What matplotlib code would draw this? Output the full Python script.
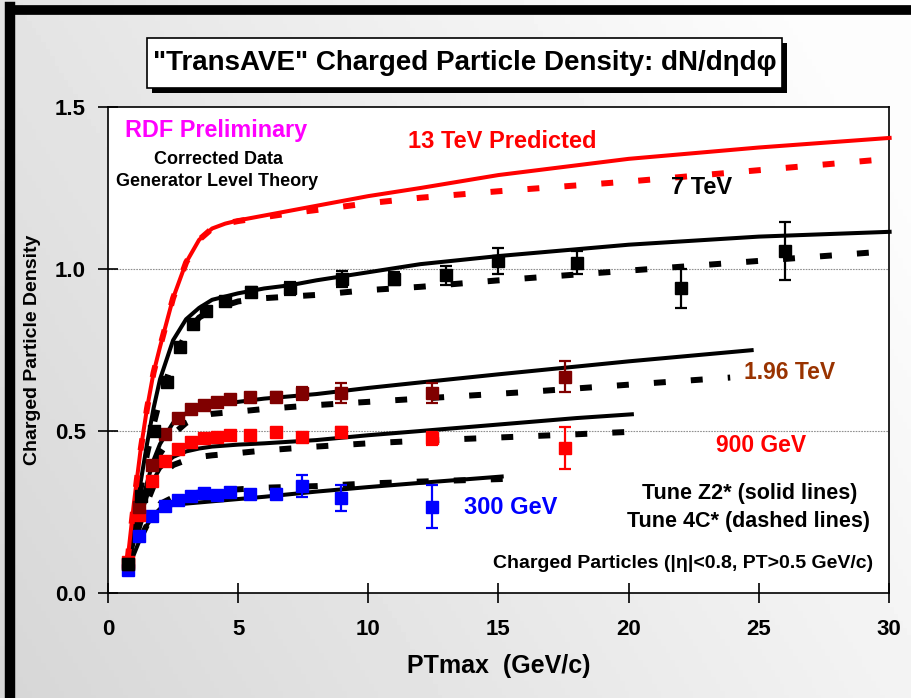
import numpy as np
import matplotlib
matplotlib.use("Agg")
import matplotlib.pyplot as plt
from matplotlib.patches import Rectangle
from matplotlib.lines import Line2D

plt.rcParams['font.family'] = ['Liberation Sans', 'DejaVu Sans']
plt.rcParams['font.weight'] = 'bold'

# ---- data points (PTmax, density, error) ----
x7 = [0.75, 1.25, 1.75, 2.25, 2.75, 3.25, 3.75, 4.5, 5.5, 7.0, 9.0, 11.0, 13.0, 15.0, 18.0, 22.0, 26.0]
y7 = [0.09, 0.30, 0.50, 0.65, 0.76, 0.83, 0.87, 0.90, 0.93, 0.94, 0.97, 0.97, 0.98, 1.025, 1.02, 0.94, 1.055]
e7 = [0.005, 0.005, 0.005, 0.005, 0.008, 0.008, 0.01, 0.01, 0.015, 0.02, 0.025, 0.02, 0.03, 0.04, 0.035, 0.06, 0.09]

x196 = [0.75, 1.2, 1.7, 2.2, 2.7, 3.2, 3.7, 4.2, 4.7, 5.45, 6.45, 7.45, 8.95, 12.45, 17.55]
y196 = [0.09, 0.265, 0.395, 0.49, 0.54, 0.567, 0.58, 0.59, 0.60, 0.605, 0.605, 0.617, 0.617, 0.617, 0.667]
e196 = [0.005, 0.005, 0.005, 0.005, 0.005, 0.008, 0.008, 0.01, 0.01, 0.012, 0.015, 0.02, 0.03, 0.03, 0.048]

x900 = [0.75, 1.2, 1.7, 2.2, 2.7, 3.2, 3.7, 4.2, 4.7, 5.45, 6.45, 7.45, 8.95, 12.45, 17.55]
y900 = [0.096, 0.24, 0.345, 0.407, 0.444, 0.467, 0.478, 0.483, 0.487, 0.487, 0.497, 0.48, 0.497, 0.478, 0.448]
e900 = [0.005, 0.005, 0.005, 0.005, 0.005, 0.005, 0.006, 0.006, 0.008, 0.008, 0.01, 0.012, 0.015, 0.02, 0.065]

x300 = [0.75, 1.2, 1.7, 2.2, 2.7, 3.2, 3.7, 4.2, 4.7, 5.45, 6.45, 7.45, 8.95, 12.45]
y300 = [0.071, 0.176, 0.238, 0.269, 0.287, 0.30, 0.31, 0.303, 0.312, 0.305, 0.305, 0.33, 0.293, 0.266]
e300 = [0.005, 0.005, 0.005, 0.005, 0.005, 0.006, 0.008, 0.008, 0.01, 0.012, 0.015, 0.035, 0.04, 0.066]

# ---- generator curves: Tune Z2* (solid) and Tune 4C* (dashed) ----
x13_z2 = [0.75, 1.0, 1.25, 1.5, 1.75, 2.0, 2.5, 3.0, 3.5, 4.0, 4.5, 5.0, 6.0, 7.0, 8.0, 10.0, 12.0, 15.0, 20.0, 25.0, 30.1]
y13_z2 = [0.10, 0.28, 0.44, 0.57, 0.68, 0.76, 0.91, 1.02, 1.09, 1.125, 1.14, 1.15, 1.165, 1.18, 1.195, 1.225, 1.25, 1.29, 1.34, 1.375, 1.405]
x13_4c = [0.75, 1.0, 1.25, 1.5, 1.75, 2.0, 2.5, 3.0, 3.5, 4.0, 4.5, 5.0, 6.0, 7.0, 8.0, 10.0, 12.0, 15.0, 20.0, 25.0, 30.0]
y13_4c = [0.10, 0.28, 0.44, 0.57, 0.68, 0.76, 0.91, 1.02, 1.09, 1.125, 1.14, 1.148, 1.16, 1.172, 1.182, 1.203, 1.22, 1.24, 1.27, 1.305, 1.34]

x7_z2 = [0.75, 1.0, 1.25, 1.5, 1.75, 2.0, 2.5, 3.0, 3.5, 4.0, 5.0, 6.0, 7.0, 8.0, 10.0, 12.0, 15.0, 20.0, 25.0, 30.1]
y7_z2 = [0.08, 0.22, 0.34, 0.46, 0.57, 0.66, 0.78, 0.845, 0.88, 0.905, 0.925, 0.94, 0.95, 0.965, 0.99, 1.015, 1.04, 1.075, 1.10, 1.115]
x7_4c = [0.75, 1.0, 1.25, 1.5, 1.75, 2.0, 2.5, 3.0, 3.5, 4.0, 5.0, 6.0, 7.0, 8.0, 10.0, 12.0, 15.0, 20.0, 25.0, 30.0]
y7_4c = [0.08, 0.20, 0.32, 0.43, 0.52, 0.60, 0.72, 0.80, 0.85, 0.875, 0.90, 0.91, 0.915, 0.92, 0.935, 0.945, 0.965, 0.995, 1.025, 1.055]

x196_z2 = [0.75, 1.0, 1.25, 1.5, 1.75, 2.0, 2.5, 3.0, 3.5, 4.0, 5.0, 6.0, 7.0, 8.0, 10.0, 12.0, 15.0, 20.0, 24.8]
y196_z2 = [0.08, 0.17, 0.26, 0.34, 0.41, 0.46, 0.525, 0.555, 0.57, 0.58, 0.59, 0.60, 0.607, 0.614, 0.633, 0.65, 0.675, 0.715, 0.75]
x196_4c = [0.75, 1.0, 1.25, 1.5, 1.75, 2.0, 2.5, 3.0, 3.5, 4.0, 5.0, 6.0, 8.0, 10.0, 13.0, 16.0, 20.0, 23.9]
y196_4c = [0.08, 0.16, 0.25, 0.32, 0.38, 0.43, 0.49, 0.525, 0.545, 0.553, 0.56, 0.568, 0.58, 0.59, 0.605, 0.62, 0.643, 0.665]

x900_z2 = [0.75, 1.0, 1.25, 1.5, 1.75, 2.0, 2.5, 3.0, 3.5, 4.0, 5.0, 6.0, 8.0, 10.0, 12.0, 15.0, 18.0, 20.2]
y900_z2 = [0.08, 0.16, 0.24, 0.30, 0.35, 0.385, 0.42, 0.437, 0.446, 0.452, 0.458, 0.462, 0.472, 0.487, 0.50, 0.52, 0.54, 0.552]
x900_4c = [0.75, 1.0, 1.25, 1.5, 1.75, 2.0, 2.5, 3.0, 3.5, 4.0, 5.0, 6.0, 8.0, 10.0, 12.0, 15.0, 18.0, 20.2]
y900_4c = [0.08, 0.15, 0.22, 0.28, 0.33, 0.36, 0.395, 0.41, 0.42, 0.425, 0.432, 0.44, 0.452, 0.462, 0.47, 0.48, 0.49, 0.498]

x300_z2 = [0.75, 1.0, 1.25, 1.5, 1.75, 2.0, 2.5, 3.0, 4.0, 5.0, 6.0, 8.0, 10.0, 12.0, 15.2]
y300_z2 = [0.07, 0.12, 0.17, 0.21, 0.24, 0.26, 0.272, 0.276, 0.283, 0.29, 0.297, 0.313, 0.327, 0.34, 0.36]
x300_4c = [0.75, 1.0, 1.25, 1.5, 1.75, 2.0, 2.5, 3.0, 4.0, 5.0, 6.0, 8.0, 10.0, 12.0, 15.2]
y300_4c = [0.07, 0.12, 0.17, 0.21, 0.245, 0.275, 0.295, 0.305, 0.315, 0.32, 0.325, 0.33, 0.338, 0.344, 0.352]

xticks = [0, 5, 10, 15, 20, 25, 30]
yticks = [0.0, 0.5, 1.0, 1.5]

fig = plt.figure(figsize=(9.12, 6.98), dpi=100)

# grey gradient behind everything
bg = fig.add_axes([0, 0, 1, 1], zorder=-10)
gx, gy = np.meshgrid(np.linspace(0, 1, 200), np.linspace(0, 1, 200))
grad = 0.84 + 0.15 * np.clip(0.75 * gx + 0.35 * gy, 0, 1)
bg.imshow(grad, cmap='gray', vmin=0, vmax=1, extent=[0, 1, 0, 1], aspect='auto', origin='lower')
bg.set_axis_off()

# thick frame lines on left and top
fig.add_artist(Line2D([0.0115, 0.0115], [0, 0.99], color='black', lw=7.5, solid_capstyle='projecting'))
fig.add_artist(Line2D([0.0115, 1.0], [0.985, 0.985], color='black', lw=7.0, solid_capstyle='projecting'))

ax = fig.add_axes([0.1184, 0.1504, 0.8564, 0.6963])
ax.set_facecolor('white')
ax.set_xlim(0, 30)
ax.set_ylim(0, 1.5)

for yg in [0.5, 1.0]:
    ax.axhline(yg, color='#909090', lw=0.8, ls=(0, (1.5, 1.0)), zorder=1)

solid_kw = dict(lw=2.9, solid_capstyle='butt', zorder=3, clip_on=False)
dash_kw = dict(lw=4.3, ls=(0, (2.0, 4.2)), dash_capstyle='butt', zorder=3, clip_on=False)

ax.plot(x300_z2, y300_z2, color='black', **solid_kw)
ax.plot(x300_4c, y300_4c, color='black', **dash_kw)
ax.plot(x900_z2, y900_z2, color='black', **solid_kw)
ax.plot(x900_4c, y900_4c, color='black', **dash_kw)
ax.plot(x196_z2, y196_z2, color='black', **solid_kw)
ax.plot(x196_4c, y196_4c, color='black', **dash_kw)
ax.plot(x7_z2, y7_z2, color='black', **solid_kw)
ax.plot(x7_4c, y7_4c, color='black', **dash_kw)
ax.plot(x13_4c, y13_4c, color='#ff0000', **dash_kw)
ax.plot(x13_z2, y13_z2, color='#ff0000', **solid_kw)

err_kw = dict(fmt='s', ms=8, capsize=4, elinewidth=1.6, capthick=1.6, zorder=5)
ax.errorbar(x300, y300, yerr=e300, color='#0000ff', **err_kw)
ax.errorbar(x900, y900, yerr=e900, color='#ff0000', **err_kw)
ax.errorbar(x196, y196, yerr=e196, color='#800000', **err_kw)
ax.errorbar(x7, y7, yerr=e7, color='black', **err_kw)

ax.set_xticks(xticks)
ax.set_yticks(yticks)
ax.set_xticklabels([str(t) for t in xticks])
ax.set_yticklabels(['%.1f' % t for t in yticks])
ax.tick_params(direction='inout', length=14, width=1.2, labelsize=16, pad=12)
ax.tick_params(axis='y', pad=9)
for s in ax.spines.values():
    s.set_linewidth(1.2)

ax.set_xlabel('PTmax  (GeV/c)', fontsize=18, fontweight='bold', labelpad=10)
ax.set_ylabel('Charged Particle Density', fontsize=14, fontweight='bold', labelpad=10)


def ptxt(px, py, s, **kw):
    # place text by pixel position measured from the top-left corner
    fig.text(px / 912, 1 - py / 698, s, ha='center', va='center', fontweight='bold', **kw)


ptxt(216, 130, 'RDF Preliminary', color='#ff00ff', fontsize=16.8)
ptxt(219, 159, 'Corrected Data', color='black', fontsize=13)
ptxt(217, 182, 'Generator Level Theory', color='black', fontsize=13)
ptxt(502, 142, '13 TeV Predicted', color='#ff0000', fontsize=17)
ptxt(702, 188, '7 TeV', color='black', fontsize=17)
ptxt(790, 372, '1.96 TeV', color='#993300', fontsize=16.5)
ptxt(761, 445, '900 GeV', color='#ff0000', fontsize=16.5)
ptxt(511, 507, '300 GeV', color='#0000ff', fontsize=17)
ptxt(750, 494, 'Tune Z2* (solid lines)', color='black', fontsize=15.5)
ptxt(749, 522, 'Tune 4C* (dashed lines)', color='black', fontsize=15.5)
ptxt(683, 564, 'Charged Particles (|\u03b7|<0.8, PT>0.5 GeV/c)', color='black', fontsize=14)

# title box with drop shadow
bx0, by0, bw, bh = 147, 38, 635, 50
fig.add_artist(Rectangle(((bx0 + 5) / 912, 1 - (by0 + bh + 5) / 698), bw / 912, bh / 698,
                         facecolor='black', edgecolor='none', transform=fig.transFigure, zorder=20))
fig.add_artist(Rectangle((bx0 / 912, 1 - (by0 + bh) / 698), bw / 912, bh / 698,
                         facecolor='white', edgecolor='black', lw=1.2, transform=fig.transFigure, zorder=21))
fig.text((bx0 + bw / 2) / 912, 1 - (by0 + bh / 2) / 698,
         '"TransAVE" Charged Particle Density: dN/d\u03b7d\u03c6',
         ha='center', va='center', fontsize=20, fontweight='bold', zorder=22)

fig.savefig('out.png', dpi=100)
